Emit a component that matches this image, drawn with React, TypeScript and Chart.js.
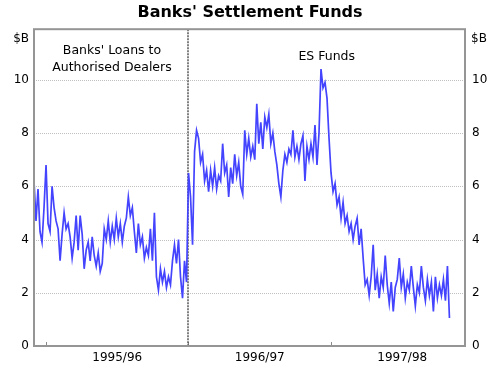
import React, { useEffect, useRef } from "react";
import { Chart, registerables } from "chart.js";

Chart.register(...registerables);

const TITLE = "Banks' Settlement Funds";
const UNIT = "$B";
const YEAR_LABELS = ["1995/96", "1996/97", "1997/98"];
const YEAR_LABEL_POS = [0.5, 1.5, 2.5];
const YEAR_STARTS = [0, 1, 2];
const Y_TICKS = [0, 2, 4, 6, 8, 10];
const Y_MAX = 11.9;
const X_MIN = -0.0842;
const X_MAX = 2.9404;
const REGIME_CHANGE = 1; // July 1996: Banks' loans -> ES funds
const LEFT_NOTE = ["Banks' Loans to", "Authorised Dealers"];
const RIGHT_NOTE = "ES Funds";
const LEFT_NOTE_X = 0.463;
const RIGHT_NOTE_X = 1.97;

// years since July 1995 of the first observation, and spacing between observations
const START_YEAR = -0.0842;
const STEP_YEAR = 1 / 71;

// $B
const FUNDS = [
  6.2, 4.7, 5.9, 4.3, 3.9, 5.2, 6.8, 4.6, 4.3, 6.0,
  5.2, 4.7, 4.4, 3.2, 4.2, 5.0, 4.4, 4.6, 4.1, 3.3,
  3.9, 4.9, 3.6, 4.9, 4.2, 2.9, 3.6, 3.9, 3.2, 4.1,
  3.4, 3.0, 3.5, 2.8, 3.1, 4.4, 4.0, 4.7, 3.9, 4.5,
  4.0, 4.8, 4.1, 4.6, 3.9, 4.5, 4.8, 5.6, 4.9, 5.2,
  4.3, 3.5, 4.6, 3.8, 4.1, 3.3, 3.7, 3.4, 4.4, 3.2,
  5.0, 2.6, 2.1, 2.9, 2.4, 2.8, 2.2, 2.6, 2.3, 3.2,
  3.8, 3.1, 4.0, 2.6, 1.8, 3.2, 2.4, 6.5, 5.6, 3.8,
  7.3, 8.1, 7.8, 6.9, 7.2, 6.2, 6.6, 5.8, 6.6, 6.0,
  6.7, 5.9, 6.4, 6.2, 7.6, 6.5, 6.8, 5.6, 6.7, 6.1,
  7.2, 6.4, 6.9, 6.0, 5.7, 8.1, 7.2, 7.8, 7.1, 7.5,
  7.0, 9.1, 7.6, 8.4, 7.4, 8.6, 8.2, 8.7, 7.6, 8.0,
  7.3, 6.8, 6.1, 5.6, 6.6, 7.2, 6.9, 7.4, 7.2, 8.1,
  7.1, 7.5, 7.0, 7.6, 7.9, 6.2, 7.5, 7.0, 7.6, 7.1,
  8.3, 6.8, 8.0, 10.4, 9.7, 9.9, 9.3, 7.8, 6.5, 5.8,
  6.1, 5.3, 5.6, 4.8, 5.4, 4.6, 4.9, 4.3, 4.6, 4.0,
  4.5, 4.8, 3.8, 4.4, 3.3, 2.3, 2.5, 1.9, 2.6, 3.8,
  2.1, 2.7, 1.8, 2.6, 2.2, 3.4, 2.3, 1.6, 2.4, 1.3,
  2.2, 2.5, 3.3, 2.2, 2.7, 1.8, 2.4, 2.1, 3.0, 2.2,
  1.5, 2.3, 2.0, 3.0, 2.2, 1.7, 2.5, 1.9, 2.4, 1.3,
  2.6, 1.8, 2.3, 1.9, 2.5, 1.7, 3.0, 1.05,
];

const FONT = "'DejaVu Sans', 'Liberation Sans', Arial, sans-serif";

const decorations = {
  id: "decorations",
  beforeDatasetsDraw(chart: any) {
    const { ctx, chartArea: a, scales } = chart;
    const x = scales.x;
    const y = scales.y;
    ctx.save();
    // horizontal dotted gridlines
    ctx.strokeStyle = "#c0c0c0";
    ctx.lineWidth = 1;
    ctx.setLineDash([1, 1]);
    for (const v of Y_TICKS) {
      if (v === 0) continue;
      const py = Math.round(y.getPixelForValue(v)) + 0.5;
      ctx.beginPath();
      ctx.moveTo(a.left, py);
      ctx.lineTo(a.right, py);
      ctx.stroke();
    }
    // year tick marks
    ctx.setLineDash([]);
    ctx.strokeStyle = "#8a8a8a";
    for (const v of YEAR_STARTS) {
      const px = Math.round(x.getPixelForValue(v)) + 0.5;
      ctx.beginPath();
      ctx.moveTo(px, a.bottom);
      ctx.lineTo(px, a.bottom - 4);
      ctx.stroke();
    }
    // regime change dotted line
    const rx = Math.round(x.getPixelForValue(REGIME_CHANGE));
    ctx.strokeStyle = "#555555";
    ctx.lineWidth = 1.5;
    ctx.setLineDash([2, 1]);
    ctx.beginPath();
    ctx.moveTo(rx, a.top);
    ctx.lineTo(rx, a.bottom);
    ctx.stroke();
    ctx.restore();
  },
  afterDatasetsDraw(chart: any) {
    const { ctx, chartArea: a, scales } = chart;
    const x = scales.x;
    ctx.save();
    // frame
    ctx.strokeStyle = "#959595";
    ctx.lineWidth = 2;
    ctx.setLineDash([]);
    ctx.strokeRect(a.left, a.top, a.right - a.left, a.bottom - a.top);
    // unit labels
    ctx.fillStyle = "#000";
    ctx.font = `12px ${FONT}`;
    ctx.textBaseline = "alphabetic";
    ctx.textAlign = "right";
    ctx.fillText(UNIT, a.left - 5, a.top + 13);
    ctx.textAlign = "left";
    ctx.fillText(UNIT, a.right + 6, a.top + 13);
    // notes
    ctx.font = `12.5px ${FONT}`;
    ctx.textAlign = "center";
    const lx = x.getPixelForValue(LEFT_NOTE_X);
    ctx.fillText(LEFT_NOTE[0], lx, a.top + 25);
    ctx.fillText(LEFT_NOTE[1], lx, a.top + 42);
    ctx.fillText(RIGHT_NOTE, x.getPixelForValue(RIGHT_NOTE_X), a.top + 31);
    ctx.restore();
  },
};

export default function App() {
  const canvasRef = useRef<HTMLCanvasElement | null>(null);

  useEffect(() => {
    const canvas = canvasRef.current;
    if (!canvas) return;
    const points = FUNDS.map((v, i) => ({ x: START_YEAR + i * STEP_YEAR, y: v }));
    const yCommon = {
      type: "linear" as const,
      min: 0,
      max: Y_MAX,
      afterBuildTicks: (s: any) => {
        s.ticks = Y_TICKS.map((v) => ({ value: v }));
      },
      grid: { display: false, drawTicks: false },
      border: { display: false },
    };
    const chart = new Chart(canvas, {
      type: "line",
      data: {
        datasets: [
          {
            data: points,
            borderColor: "#4444ff",
            borderWidth: 1.7,
            pointRadius: 0,
            tension: 0,
            fill: false,
          },
        ],
      },
      options: {
        animation: false,
        responsive: false,
        devicePixelRatio: 1,
        layout: { padding: 0 },
        plugins: {
          legend: { display: false },
          tooltip: { enabled: false },
          title: {
            display: true,
            text: TITLE,
            color: "#000",
            font: { family: FONT, size: 16, weight: "bold" },
            padding: { top: 3, bottom: 7 },
          },
        },
        scales: {
          x: {
            type: "linear",
            min: X_MIN,
            max: X_MAX,
            afterBuildTicks: (s: any) => {
              s.ticks = YEAR_LABEL_POS.map((v) => ({ value: v }));
            },
            afterFit: (s: any) => {
              s.height = 27;
            },
            ticks: {
              callback: (_v: any, i: number) => YEAR_LABELS[i],
              color: "#000",
              font: { family: FONT, size: 12 },
              padding: 5,
              maxRotation: 0,
              autoSkip: false,
            },
            grid: { display: false, drawTicks: false },
            border: { display: false },
          },
          y: {
            ...yCommon,
            position: "left",
            afterFit: (s: any) => {
              s.width = 34;
            },
            ticks: {
              color: "#000",
              font: { family: FONT, size: 12 },
              padding: 5,
              callback: (v: any) => String(v),
            },
          },
          yRight: {
            ...yCommon,
            position: "right",
            afterFit: (s: any) => {
              s.width = 35;
            },
            ticks: {
              color: "#000",
              font: { family: FONT, size: 12 },
              padding: 7,
              callback: (v: any) => String(v),
            },
          },
        },
      } as any,
      plugins: [decorations],
    });
    return () => chart.destroy();
  }, []);

  return (
    <div style={{ position: "fixed", left: 0, top: 0, width: 500, height: 373, background: "#fff" }}>
      <canvas ref={canvasRef} width={500} height={373} style={{ display: "block" }} />
    </div>
  );
}
